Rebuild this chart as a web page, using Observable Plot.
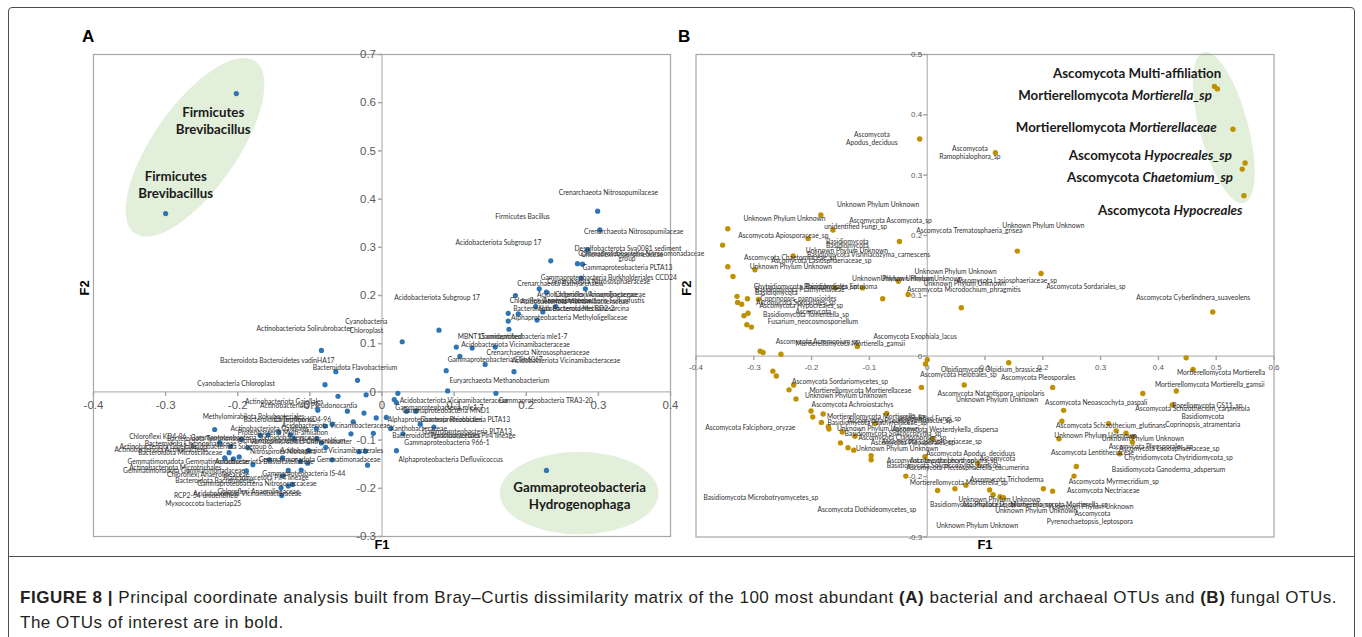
<!DOCTYPE html>
<html><head><meta charset="utf-8">
<script src="https://cdn.jsdelivr.net/npm/d3@7"></script>
<script src="https://cdn.jsdelivr.net/npm/@observablehq/plot@0.6"></script>
<style>
body{margin:0;background:#fff;}
#fig{position:relative;width:1362px;height:637px;overflow:hidden;background:#fff;}
#frame{position:absolute;left:8px;top:7px;width:1345px;height:680px;border:1.3px solid #4d4d4d;border-radius:4px;}
#divider{position:absolute;left:8px;top:556px;width:1347px;border-top:1.3px solid #4d4d4d;}
.panel{position:absolute;top:0;}
.letter{position:absolute;font:bold 17px "Liberation Sans",Arial,sans-serif;color:#000;}
#caption{position:absolute;left:20px;top:586px;font-family:"Liberation Sans",Arial,sans-serif;font-size:17px;line-height:24.5px;color:#231f20;white-space:nowrap;}
</style></head>
<body><div id="fig">
<div id="frame"></div><div id="divider"></div>
<div class="letter" style="left:82px;top:27px">A</div>
<div class="letter" style="left:678px;top:27px">B</div>
<div id="caption"><span id="cap1"><b>FIGURE 8 |</b> Principal coordinate analysis built from Bray–Curtis dissimilarity matrix of the 100 most abundant <b>(A)</b> bacterial and archaeal OTUs and <b>(B)</b> fungal OTUs.</span><br><span id="cap2">The OTUs of interest are in bold.</span></div>
</div>
<script>
// ---------- Panel A data (F1, F2) ----------
const ticksAx = [-0.4,-0.3,-0.2,-0.1,0,0.1,0.2,0.3,0.4];
const ticksAy = [-0.3,-0.2,-0.1,0,0.1,0.2,0.3,0.4,0.5,0.6,0.7];
const pointsA = [
[-0.202,0.619],[-0.300,0.370],
[0.299,0.375],[0.302,0.336],[0.285,0.295],[0.234,0.272],[0.271,0.266],[0.278,0.265],[0.276,0.236],[0.282,0.214],[0.218,0.214],[0.228,0.207],[0.185,0.200],[0.213,0.177],[0.241,0.177],[0.223,0.166],[0.175,0.163],[0.189,0.162],[0.175,0.147],[0.215,0.149],[0.176,0.130],[0.079,0.128],[0.028,0.104],[0.103,0.093],[0.125,0.091],[0.157,0.093],[0.108,0.074],[0.143,0.057],[0.089,0.044],[0.183,0.042],[0.091,0.002],[0.022,-0.003],[0.158,-0.003],[0.017,-0.016],[0.020,-0.022],
[-0.084,0.086],[-0.064,0.042],[-0.034,0.024],[-0.079,0.015],[-0.061,-0.009],[-0.022,-0.006],
[0.034,-0.040],[0.047,-0.040],[0.053,-0.067],[0.072,-0.073],[0.012,-0.076],[0.029,-0.087],[0.020,-0.122],[0.228,-0.163],
[-0.089,-0.038],[-0.048,-0.040],[-0.025,-0.044],[-0.008,-0.054],[0.006,-0.053],[-0.012,-0.086],[-0.040,-0.062],[-0.069,-0.067],[-0.079,-0.071],[-0.091,-0.076],[-0.043,-0.087],[-0.232,-0.078],[-0.195,-0.098],[-0.225,-0.105],[-0.169,-0.090],[-0.158,-0.089],[-0.143,-0.083],[-0.127,-0.089],[-0.122,-0.097],[-0.090,-0.097],[-0.084,-0.106],[-0.078,-0.115],[-0.102,-0.122],[-0.186,-0.116],[-0.210,-0.113],[-0.212,-0.126],[-0.218,-0.137],[-0.206,-0.139],[-0.198,-0.135],[-0.156,-0.141],[-0.138,-0.137],[-0.113,-0.144],[-0.103,-0.148],[-0.069,-0.141],[-0.032,-0.124],[-0.023,-0.123],[-0.020,-0.152],[-0.179,-0.151],[-0.188,-0.164],[-0.130,-0.163],[-0.112,-0.162],[-0.138,-0.174],[-0.140,-0.199],[-0.130,-0.195],[-0.124,-0.192],[-0.139,-0.215]
];
const labelsA = [
["Crenarchaeota Nitrosopumilaceae",0.245,0.412],["Firmicutes Bacillus",0.157,0.364],["Crenarchaeota Nitrosopumilaceae",0.280,0.333],
["Acidobacteriota Subgroup 17",0.102,0.310],["Desulfobacterota Sva0081 sediment",0.267,0.297],["Gammaproteobacteria Nitrosomonadaceae",0.272,0.287],["Chloroflexi Anaerolineaceae",0.276,0.284],
["group",0.328,0.276],["Gammaproteobacteria PLTA13",0.278,0.258],["Gammaproteobacteria Burkholderiales CCD24",0.220,0.236],["Crenarchaeota Nitrososphaeraceae",0.229,0.229],
["Crenarchaeota Bathyarchaeia",0.1875,0.224],["Acidobacteriota Vicinamibacteraceae",0.215,0.201],["Chloroflexi Anaerolineaceae",0.240,0.201],
["Chloroflexi Anaerolineaceae",0.177,0.188],["Acidobacteriota Vicinamibacteraceae",0.192,0.186],["Gammaproteobacteria Sulfurifustis",0.222,0.188],
["Bacteroidota Bacteroidetes BD2-2",0.182,0.172],["Halobacterota Methanosarcina",0.2175,0.172],["Alphaproteobacteria Methyloligellaceae",0.179,0.153],
["Acidobacteriota Subgroup 17",0.017,0.195],["Cyanobacteria",-0.051,0.146],["Chloroplast",-0.045,0.127],
["MBNT15 unidentified",0.105,0.115],["Gammaproteobacteria mle1-7",0.135,0.115],["Acidobacteriota Vicinamibacteraceae",0.110,0.0975],
["Crenarchaeota Nitrososphaeraceae",0.145,0.080],["Gammaproteobacteria Ellin6067",0.091,0.066],["Acidobacteriota Vicinamibacteraceae",0.180,0.0635],
["Euryarchaeota Methanobacterium",0.0935,0.0234],["Acidobacteriota Vicinamibacteraceae",0.0245,-0.0195],["Gammaproteobacteria TRA3-20",0.162,-0.0195],
["Gammaproteobacteria mle1-7",0.0185,-0.033],["Gammaproteobacteria MND1",0.028,-0.040],["Alphaproteobacteria Rhizobiales",0.008,-0.0575],["Gammaproteobacteria PLTA13",0.053,-0.0575],
["Xanthobacteraceae",0.0115,-0.077],["Gammaproteobacteria PLTA13",0.0555,-0.082],["Bacteroidota Ignavibacteriales",0.0143,-0.092],["Planctomycetota Pir4 lineage",0.067,-0.091],
["Gammaproteobacteria 966-1",0.031,-0.106],["Alphaproteobacteria Defluviicoccus",0.023,-0.140],
["Actinobacteriota Solirubrobacter",-0.174,0.131],["Bacteroidota Bacteroidetes vadinHA17",-0.2246,0.0635],["Bacteroidota Flavobacterium",-0.096,0.049],
["Cyanobacteria Chloroplast",-0.256,0.0166],["Actinobacteriota Gaiellales",-0.190,-0.0216],["Actinobacteriota Pseudonocardia",-0.169,-0.028],
["Methylomirabilota Rokubacteriales",-0.2486,-0.0527],["Bacteroidota Terrimonas",-0.192,-0.058],["Chloroflexi KD4-96",-0.150,-0.058],
["Acidobacteriota Vicinamibacteraceae",-0.139,-0.070],["Actinobacteriota Gaiellales",-0.21,-0.0776],["Proteobacteria Multi-affiliation",-0.20,-0.084],
["Chloroflexi KD4-96",-0.3506,-0.0924],["Bacteroidota Terrimonas",-0.298,-0.0983],["Gammaproteobacteria Steroidobacteraceae",-0.265,-0.095],
["Alphaproteobacteria Pedomicrobium",-0.20,-0.1025],["Bacteroidota Chitinophagaceae",-0.329,-0.107],["Actinobacteriota Gaiellales",-0.364,-0.114],
["Actinobacteriota Actinobacteria",-0.371,-0.120],["Bacteroidota Microscillaceae",-0.338,-0.127],["Gemmatimonadota Gemmatimonadaceae",-0.353,-0.145],
["Actinobacteriota Microtrichales",-0.3506,-0.157],["Gemmatimonadota Gemmatimonadaceae",-0.359,-0.163],["Chloroflexi Anaerolineaceae",-0.298,-0.1716],
["Bacteroidota Bacteroidetes",-0.2867,-0.184],["Gammaproteobacteria Nitrosococcaceae",-0.256,-0.191],["Planctomycetota Pir4 lineage",-0.22,-0.178],
["Gammaproteobacteria IS-44",-0.166,-0.169],["Acidobacteriota Vicinamibacterales",-0.141,-0.122],["Gemmatimonadota Gemmatimonadaceae",-0.171,-0.141],
["Chloroflexi Anaerolineaceae",-0.228,-0.207],["Acidobacteriota Vicinamibacteraceae",-0.2617,-0.212],["RCP2-54 unidentified",-0.2885,-0.215],
["Myxococcota bacteriap25",-0.3006,-0.233],["Acidobacteriota Subgroup 6",-0.266,-0.1135],["Nitrospirota Nitrospira",-0.183,-0.125],
["Acidobacteriota Blastocatellaceae",-0.2315,-0.146],["Verrucomicrobiota Chthoniobacter",-0.183,-0.103]
];
const boldA = [
["Firmicutes\nBrevibacillus",-0.234,0.5635],
["Firmicutes\nBrevibacillus",-0.286,0.431],
["Gammaproteobacteria\nHydrogenophaga",0.274,-0.214]
];
// highlight ellipses: major-axis end points (F1,F2,F1,F2) and minor/major ratio
const ellipsesA = [[-0.175,0.685,-0.342,0.328,0.40],[0.164,-0.211,0.384,-0.211,0.52]];

// ---------- Panel B data (F1, F2) ----------
const ticksBx = [-0.4,-0.3,-0.2,-0.1,0,0.1,0.2,0.3,0.4,0.5,0.6];
const ticksBy = [-0.3,-0.2,-0.1,0,0.1,0.2,0.3,0.4,0.5];
const pointsB = [
[-0.013,0.360],[-0.184,0.234],[-0.163,0.209],[-0.206,0.195],[-0.048,0.190],[-0.345,0.211],[-0.354,0.184],[-0.232,0.166],[-0.345,0.148],[-0.298,0.143],[-0.336,0.132],[-0.159,0.113],[-0.112,0.113],[-0.050,0.124],[-0.033,0.102],[-0.077,0.095],[-0.329,0.099],[-0.311,0.095],[-0.328,0.089],[-0.321,0.086],[-0.292,0.094],[-0.310,0.071],[-0.317,0.067],[-0.312,0.052],[-0.304,0.048],[-0.121,0.016],[-0.289,0.008],[-0.284,0.006],[-0.253,0.003],[0.000,-0.006],[-0.003,-0.013],
[0.497,0.447],[0.502,0.443],[0.529,0.376],[0.550,0.320],[0.545,0.310],[0.548,0.266],[0.118,0.337],
[0.156,0.174],[0.197,0.137],[0.059,0.080],[0.494,0.073],[0.141,-0.011],[0.448,-0.003],[0.460,-0.022],
[-0.267,-0.025],[-0.261,-0.033],[-0.231,-0.048],[-0.239,-0.056],[-0.227,-0.071],[-0.010,-0.052],[-0.201,-0.091],[-0.198,-0.101],[-0.180,-0.096],[-0.183,-0.110],[-0.171,-0.117],[-0.170,-0.121],[-0.147,-0.126],[-0.125,-0.133],[-0.090,-0.112],[-0.070,-0.095],[-0.150,-0.144],[-0.137,-0.152],[-0.127,-0.156],[-0.097,-0.165],[-0.097,-0.172],[-0.004,-0.167],[-0.037,-0.199],
[0.064,-0.048],[0.217,-0.052],[0.373,-0.062],[0.431,-0.058],[0.424,-0.081],[0.236,-0.090],[0.233,-0.108],[0.314,-0.112],[0.327,-0.124],[0.344,-0.128],[0.355,-0.134],[0.355,-0.143],[0.228,-0.137],[0.333,-0.162],[0.009,-0.137],[0.087,-0.178],[0.258,-0.183],[0.254,-0.199],[0.067,-0.214],[0.048,-0.220],[0.018,-0.223],[0.108,-0.222],[0.201,-0.220],[0.217,-0.224],[0.114,-0.230],[0.126,-0.233],[0.132,-0.235]
];
const labelsB = [
["Unknown Phylum Unknown",-0.156,0.2505],["Unknown Phylum Unknown",-0.318,0.227],["Ascomycota Ascomycota_sp",-0.135,0.225],
["unidentified Fungi_sp",-0.178,0.214],["Ascomycota Apiosporaceae_sp",-0.327,0.200],["Ascomycota Trematosphaeria_grisea",-0.019,0.207],
["Basidiomycota",-0.175,0.190],["Basidiomycota",-0.175,0.182],["Unknown Phylum Unknown",-0.210,0.175],["Basidiomycota Vishniacozyma_carnescens",-0.208,0.168],
["Ascomycota Chaetomiaceae_sp",-0.317,0.163],["Ascomycota Lasiosphaeriaceae_sp",-0.270,0.158],["Unknown Phylum Unknown",-0.307,0.148],
["Unknown Phylum Unknown",-0.130,0.128],["Unknown Phylum Unknown",-0.081,0.128],["Chytridiomycota Rhizophydiales_sp",-0.300,0.115],
["Basidiomycota Entoloma",-0.211,0.115],["Basidiomycota Psathyrellaceae",-0.298,0.110],["Basidiomycota",-0.298,0.105],["Coprinopsis_pannucioides",-0.289,0.0955],
["Ascomycota Sordariales_sp",-0.296,0.089],["Ascomycota Hypocreales_sp",-0.290,0.083],["Ascomycota",-0.228,0.073],["Basidiomycota Tomentella_sp",-0.284,0.068],
["Fusarium_neocosmosporiellum",-0.276,0.056],["Ascomycota Exophiala_lacus",-0.093,0.0317],["Mortierellomycota Mortierella_gamsii",-0.228,0.0195],
["Ascomycota Acremonium_sp",-0.262,0.024],["Unknown Phylum Unknown",0.130,0.2167],["Unknown Phylum Unknown",-0.022,0.139],
["Ascomycota Lasiosphaeriaceae_sp",0.051,0.125],["Unknown Phylum Unknown",-0.006,0.1195],["Ascomycota Microdochium_phragmitis",-0.035,0.1095],
["Ascomycota Sordariales_sp",0.206,0.114],["Ascomycota Cyberlindnera_suaveolens",0.3616,0.097],["Olpidiomycota Olpidium_brassicae",0.0237,-0.0233],
["Ascomycota Helotiales_sp",-0.012,-0.0305],["Ascomycota Pleosporales",0.1275,-0.036],["Mortierellomycota Mortierella",0.432,-0.028],
["Ascomycota Natantispora_unipolaris",0.018,-0.062],["Unknown Phylum Unknown",0.050,-0.073],["Mortierellomycota Mortierella_gamsii",0.394,-0.048],
["Ascomycota Neoascochyta_paspali",0.204,-0.077],["Rozellomycota GS11_sp",0.424,-0.083],["Ascomycota Schizothecium_carpinicola",0.36,-0.087],
["Basidiomycota",0.44,-0.100],["Coprinopsis_atramentaria",0.412,-0.114],["Ascomycota Schizothecium_glutinans",0.223,-0.115],
["Unknown Phylum Unknown",0.220,-0.133],["Unknown Phylum Unknown",0.302,-0.137],["Ascomycota Pleosporales_sp",0.314,-0.151],
["Ascomycota Lasiosphaeriaceae_sp",0.332,-0.1545],["Ascomycota Lentitheciaceae",0.214,-0.161],["Chytridiomycota Chytridiomycota_sp",0.341,-0.168],
["Basidiomycota Ganoderma_adspersum",0.3195,-0.189],["Ascomycota Myrmecridium_sp",0.245,-0.208],["Ascomycota Nectriaceae",0.242,-0.224],
["Ascomycota Trichoderma",0.074,-0.2045],["Mortierellomycota Mortierella_sp",-0.03,-0.2095],["Unknown Phylum Unknown",0.054,-0.238],
["Basidiomycota Phallaceae_sp",0.005,-0.247],["Ascomycota Dactylonectria_sp",0.06,-0.247],["Mortierellomycota Mortierella_sp",0.1436,-0.246],
["Unknown Phylum Unknown",0.1176,-0.257],["Unknown Phylum Unknown",0.215,-0.2495],["Ascomycota",0.255,-0.262],
["Unknown Phylum Unknown",0.0156,-0.281],["Pyrenochaetopsis_leptospora",0.207,-0.2755],["Ascomycota Apodus_deciduus",-0.0017,-0.162],
["Ascomycota Lecythophora_sp",-0.03,-0.173],["Ascomycota",0.0905,-0.170],["Ascomycota Plectosphaerella_cucumerina",-0.036,-0.185],
["Ascomycota Westerdykella_dispersa",-0.061,-0.123],["unidentified Fungi_sp",-0.05,-0.104],["Ascomycota Lasiosphaeriaceae_sp",-0.079,-0.142],
["Ascomycota Sordariomycetes_sp",-0.234,-0.043],["Mortierellomycota Mortierellaceae",-0.2036,-0.057],["Unknown Phylum Unknown",-0.2116,-0.0655],
["Ascomycota Achroiostachys",-0.200,-0.0805],["Mortierellomycota Mortierella_sp",-0.1735,-0.100],["Basidiomycota Psathyrellaceae_sp",-0.1725,-0.111],
["Ascomycota Pseudogymnoascus_sp",-0.138,-0.107],["Ascomycota Falciphora_oryzae",-0.384,-0.1195],["Unknown Phylum Unknown",-0.156,-0.121],
["Basidiomycota Solicoccozyma_sp",-0.143,-0.129],["Ascomycota Cladosporium_sp",-0.119,-0.135],["Ascomycota Pleosporales_sp",-0.0975,-0.144],
["Unknown Phylum Unknown",-0.123,-0.1545],["Ascomycota Lecythophora_sp",-0.07,-0.174],["Basidiomycota Solicoccozyma_terricola",-0.07,-0.182],
["Basidiomycota Microbotryomycetes_sp",-0.387,-0.2345],["Ascomycota Dothideomycetes_sp",-0.190,-0.2545]
];
const centeredB = [
["Ascomycota\nApodus_deciduus",-0.0957,0.361],
["Ascomycota\nRamophialophora_sp",0.074,0.338]
];
// "§" marks the start of the italic part
const boldB = [
["Ascomycota Multi-affiliation",0.5087,0.468],
["Mortierellomycota §Mortierella_sp",0.4925,0.432],
["Mortierellomycota §Mortierellaceae",0.501,0.379],
["Ascomycota §Hypocreales_sp",0.527,0.332],
["Ascomycota §Chaetomium_sp",0.529,0.296],
["Ascomycota §Hypocreales",0.5455,0.2405]
];
const ellipsesB = [[0.479,0.503,0.549,0.253,0.31]];

// ---------- helpers ----------
const AX = "#a6a6a6";
const vtick = {draw(ctx){ctx.moveTo(0,0);ctx.lineTo(0,4);}};
const htick = {draw(ctx){ctx.moveTo(-4,0);ctx.lineTo(0,0);}};
function ellipseMark(list, fill){
  return (index, scales) => {
    const g = d3.create("svg:g");
    for (const e of list){
      const x1=scales.x(e[0]), y1=scales.y(e[1]), x2=scales.x(e[2]), y2=scales.y(e[3]);
      const cx=(x1+x2)/2, cy=(y1+y2)/2, a=Math.hypot(x2-x1,y2-y1)/2;
      const ang=Math.atan2(y2-y1,x2-x1)*180/Math.PI;
      g.append("ellipse").attr("cx",cx).attr("cy",cy).attr("rx",a).attr("ry",a*e[4])
        .attr("transform",`rotate(${ang},${cx},${cy})`).attr("fill",fill);
    }
    return g.node();
  };
}
function axesMarks(tx, ty, fs, col, dyx, dxy){
  return [
    Plot.frame({stroke:AX, strokeWidth:1.2}),
    Plot.ruleX([0],{stroke:AX}),
    Plot.ruleY([0],{stroke:AX}),
    Plot.dot(tx,{x:d=>d,y:0,symbol:vtick,r:3,stroke:AX,fill:"none"}),
    Plot.dot(ty,{x:0,y:d=>d,symbol:htick,r:3,stroke:AX,fill:"none"}),
    Plot.text(tx,{x:d=>d,y:0,text:d=>String(d),dy:dyx,fontSize:fs,fill:col,fontFamily:"Liberation Sans"}),
    Plot.text(ty,{x:0,y:d=>d,text:d=>String(d),dx:dxy,textAnchor:"end",fontSize:fs,fill:col,fontFamily:"Liberation Sans"}),
    Plot.text(["F1"],{frameAnchor:"bottom",dy:12,fontSize:13,fontWeight:"bold",fill:"#000",fontFamily:"Liberation Sans"}),
    Plot.text(["F2"],{frameAnchor:"left",dx:-9,rotate:-90,fontSize:13,fontWeight:"bold",fill:"#000",fontFamily:"Liberation Sans"})
  ];
}
const small = {fontSize:6.7, fontFamily:"Lato", fill:"#303030"};

const plotA = Plot.plot({
  width:690, height:560, marginLeft:93, marginRight:20, marginTop:54, marginBottom:24,
  x:{domain:[-0.4,0.4], axis:null}, y:{domain:[-0.3,0.7], axis:null},
  style:{background:"transparent", overflow:"visible", fontFamily:"Lato"},
  marks:[
    ellipseMark(ellipsesA, "#e2efda"),
    ...axesMarks(ticksAx, ticksAy, 11.5, "#595959", 13, -6),
    Plot.dot(pointsA,{x:d=>d[0],y:d=>d[1],r:2.6,fill:"#2e75b6"}),
    Plot.text(labelsA,{x:d=>d[1],y:d=>d[2],text:d=>d[0],textAnchor:"start",...small}),
    Plot.text(boldA,{x:d=>d[1],y:d=>d[2],text:d=>d[0],textAnchor:"middle",fontSize:13.3,fontWeight:"bold",lineHeight:1.3,fill:"#1a1a1a",fontFamily:"Lato"})
  ]
});
const plotB = Plot.plot({
  width:620, height:560, marginLeft:15.5, marginRight:26.5, marginTop:54, marginBottom:23.5,
  x:{domain:[-0.4,0.6], axis:null}, y:{domain:[-0.3,0.5], axis:null},
  style:{background:"transparent", overflow:"visible", fontFamily:"Lato"},
  marks:[
    ellipseMark(ellipsesB, "#e2efda"),
    ...axesMarks(ticksBx, ticksBy, 8, "#595959", 11, -5),
    Plot.dot(pointsB,{x:d=>d[0],y:d=>d[1],r:2.7,fill:"#bf9000"}),
    Plot.text(labelsB,{x:d=>d[1],y:d=>d[2],text:d=>d[0],textAnchor:"start",...small}),
    Plot.text(centeredB,{x:d=>d[1],y:d=>d[2],text:d=>d[0],textAnchor:"middle",lineHeight:1.3,...small}),
    Plot.text(boldB,{x:d=>d[1],y:d=>d[2],text:d=>d[0],textAnchor:"end",fontSize:13.3,fontWeight:"bold",fill:"#1a1a1a",fontFamily:"Lato"})
  ]
});
d3.select(plotB).selectAll("text").each(function(){
  const t = this.textContent;
  if (t.includes("§")) {
    const [a,b] = t.split("§");
    this.textContent = "";
    d3.select(this).append("tspan").text(a);
    d3.select(this).append("tspan").attr("font-style","italic").text(b);
  }
});
const fig = document.getElementById("fig");
const wA = document.createElement("div"); wA.className="panel"; wA.style.left="0px"; wA.appendChild(plotA);
const wB = document.createElement("div"); wB.className="panel"; wB.style.left="680px"; wB.appendChild(plotB);
fig.appendChild(wA); fig.appendChild(wB);

// stretch caption line 1 to the reference line length
const cap1 = document.getElementById("cap1");
const w1 = cap1.getBoundingClientRect().width;
const n1 = cap1.textContent.length;
const ls = (1317 - w1) / n1;
document.getElementById("caption").style.letterSpacing = ls.toFixed(3) + "px";
</script>
</body></html>
